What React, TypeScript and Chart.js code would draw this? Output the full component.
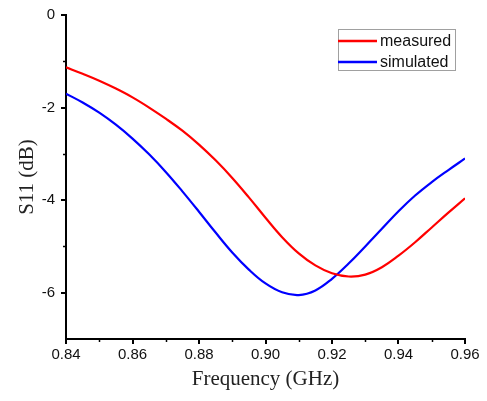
import React, { useEffect, useRef } from "react";
import { Chart, registerables } from "chart.js";

Chart.register(...registerables);

const frequencies = [
  0.84, 0.845, 0.85, 0.855, 0.86, 0.865, 0.87, 0.875, 0.88, 0.885, 0.89, 0.895,
  0.9, 0.905, 0.91, 0.915, 0.92, 0.925, 0.93, 0.935, 0.94, 0.945, 0.95, 0.955, 0.96,
];
const measured = [
  -1.13, -1.27, -1.42, -1.59, -1.78, -2.0, -2.24, -2.5, -2.8, -3.14, -3.52, -3.94,
  -4.38, -4.8, -5.15, -5.41, -5.58, -5.65, -5.61, -5.45, -5.2, -4.91, -4.59, -4.27, -3.96,
];
const simulated = [
  -1.7, -1.89, -2.11, -2.37, -2.67, -3.01, -3.39, -3.81, -4.25, -4.7, -5.13, -5.5,
  -5.8, -5.99, -6.05, -5.95, -5.7, -5.37, -5.0, -4.62, -4.24, -3.9, -3.61, -3.35, -3.1,
];
const seriesNames = ["measured", "simulated"];
const seriesColors = ["#ff0000", "#0000ff"];
const xTitle = "Frequency (GHz)";
const yTitle = "S11 (dB)";
const xMajorTicks = [0.84, 0.86, 0.88, 0.9, 0.92, 0.94, 0.96];
const yMajorTicks = [-6, -4, -2, 0];
const xMinorTicks = [0.85, 0.87, 0.89, 0.91, 0.93, 0.95];
const yMinorTicks = [-1, -3, -5];

export default function App() {
  const ref = useRef<HTMLCanvasElement | null>(null);

  useEffect(() => {
    if (!ref.current) return;
    const decor = {
      id: "decor",
      afterDraw(chart: any) {
        const ctx = chart.ctx;
        const xs = chart.scales.x;
        const ys = chart.scales.y;
        const area = chart.chartArea;
        ctx.save();
        ctx.strokeStyle = "#000";
        ctx.lineWidth = 1.5;
        xMinorTicks.forEach((v) => {
          const px = Math.round(xs.getPixelForValue(v)) + 0.5;
          ctx.beginPath();
          ctx.moveTo(px, area.bottom);
          ctx.lineTo(px, area.bottom + 3);
          ctx.stroke();
        });
        yMinorTicks.forEach((v) => {
          const py = Math.round(ys.getPixelForValue(v)) + 0.5;
          ctx.beginPath();
          ctx.moveTo(area.left, py);
          ctx.lineTo(area.left - 3, py);
          ctx.stroke();
        });
        ctx.fillStyle = "#222";
        ctx.font = '21px "Liberation Serif", "Times New Roman", serif';
        ctx.textAlign = "center";
        ctx.textBaseline = "middle";
        ctx.fillText(xTitle, (area.left + area.right) / 2, 379);
        ctx.save();
        ctx.translate(27, (area.top + area.bottom) / 2);
        ctx.rotate(-Math.PI / 2);
        ctx.fillText(yTitle, 0, 0);
        ctx.restore();
        const bx = 338.5, by = 29.5, bw = 117, bh = 41;
        ctx.strokeStyle = "#a0a0a0";
        ctx.lineWidth = 1;
        ctx.strokeRect(bx, by, bw, bh);
        ctx.font = '16px "Liberation Sans", Arial, sans-serif';
        ctx.textAlign = "left";
        ctx.textBaseline = "middle";
        seriesNames.forEach((name, i) => {
          const ly = 41 + i * 21;
          ctx.strokeStyle = seriesColors[i];
          ctx.lineWidth = 2.5;
          ctx.beginPath();
          ctx.moveTo(338, ly);
          ctx.lineTo(377, ly);
          ctx.stroke();
          ctx.fillStyle = "#111";
          ctx.fillText(name, 380, ly + 1);
        });
        ctx.restore();
      },
    };

    const chart = new Chart(ref.current, {
      type: "line",
      data: {
        datasets: [measured, simulated].map((vals, i) => ({
          label: seriesNames[i],
          data: frequencies.map((f, j) => ({ x: f, y: vals[j] })),
          borderColor: seriesColors[i],
          borderWidth: 2.2,
          pointRadius: 0,
          fill: false,
          tension: 0.4,
        })),
      },
      options: {
        animation: false,
        responsive: false,
        layout: { padding: { top: 15, right: 22, left: 0, bottom: 0 } },
        plugins: { legend: { display: false }, tooltip: { enabled: false } },
        scales: {
          x: {
            type: "linear",
            min: 0.84,
            max: 0.96,
            afterFit(scale: any) {
              scale.height = 62;
            },
            afterBuildTicks(scale: any) {
              scale.ticks = xMajorTicks.map((v) => ({ value: v }));
            },
            ticks: {
              color: "#111",
              font: { family: '"Liberation Sans", Arial, sans-serif', size: 15 },
              padding: 2,
              maxRotation: 0,
              callback: (v: any) => Number(v).toFixed(2),
            },
            grid: { drawOnChartArea: false, drawTicks: true, tickLength: 5, color: "#000", lineWidth: 2 },
            border: { display: true, color: "#000", width: 2 },
          },
          y: {
            type: "linear",
            min: -7,
            max: 0,
            afterFit(scale: any) {
              scale.width = 66;
            },
            afterBuildTicks(scale: any) {
              scale.ticks = yMajorTicks.map((v) => ({ value: v }));
            },
            ticks: {
              color: "#111",
              font: { family: '"Liberation Sans", Arial, sans-serif', size: 15 },
              padding: 6,
              callback: (v: any) => String(v),
            },
            grid: { drawOnChartArea: false, drawTicks: true, tickLength: 5, color: "#000", lineWidth: 2 },
            border: { display: true, color: "#000", width: 2 },
          },
        },
      },
      plugins: [decor],
    });
    return () => chart.destroy();
  }, []);

  return (
    <div style={{ position: "fixed", left: 0, top: 0, width: 487, height: 401, background: "#fff" }}>
      <canvas ref={ref} width={487} height={401} />
    </div>
  );
}
